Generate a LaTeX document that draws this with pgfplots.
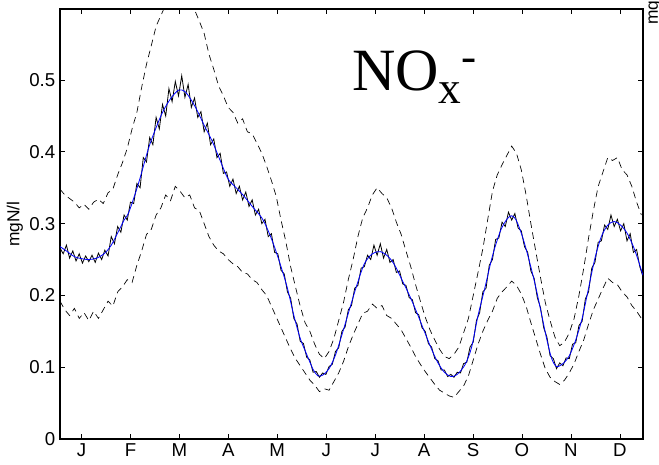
\documentclass[border=0pt]{standalone}
\usepackage{pgfplots}
\pgfplotsset{compat=1.18}
\usepackage{fontspec}
\setmainfont{Liberation Sans}
\newfontfamily\timesf{Liberation Serif}

% daily mean (black, noisy)
\pgfplotstableread{
d v
1 .266
3 .258
5 .270
7 .252
9 .262
11 .248
13 .258
15 .245
17 .255
19 .247
21 .256
23 .246
25 .259
27 .250
29 .263
31 .255
33 .282
35 .272
37 .296
39 .288
41 .312
43 .305
45 .330
47 .328
49 .356
51 .350
53 .392
55 .386
57 .420
59 .410
61 .448
63 .432
65 .466
67 .450
69 .488
71 .470
73 .498
75 .478
77 .506
79 .476
81 .494
83 .462
85 .475
87 .448
89 .456
91 .428
93 .440
95 .410
97 .418
99 .392
101 .398
103 .370
105 .372
107 .352
109 .362
111 .342
113 .352
115 .333
117 .344
119 .324
121 .333
123 .312
125 .320
127 .300
129 .306
131 .282
133 .286
135 .260
137 .258
139 .235
141 .230
143 .205
145 .196
147 .168
149 .160
151 .136
153 .133
155 .114
157 .110
159 .093
161 .094
163 .086
165 .092
167 .090
169 .101
171 .104
173 .122
175 .127
177 .150
179 .156
181 .180
183 .186
185 .210
187 .214
189 .238
191 .240
193 .256
195 .250
197 .270
199 .256
201 .272
203 .252
205 .264
207 .246
209 .250
211 .232
213 .234
215 .216
217 .214
219 .197
221 .194
223 .176
225 .173
227 .155
229 .150
231 .133
233 .128
235 .112
237 .109
239 .096
241 .096
243 .087
245 .090
247 .086
249 .093
251 .092
253 .105
255 .107
257 .128
259 .135
261 .165
263 .176
265 .205
267 .210
269 .242
271 .250
273 .278
275 .280
277 .302
279 .296
281 .316
283 .305
285 .314
287 .294
289 .290
291 .268
293 .260
295 .234
297 .224
299 .197
301 .183
303 .155
305 .142
307 .116
309 .112
311 .098
313 .106
315 .102
317 .113
319 .112
321 .132
323 .134
325 .158
327 .164
329 .195
331 .205
333 .238
335 .246
337 .274
339 .276
341 .298
343 .292
345 .312
347 .296
349 .306
351 .290
353 .300
355 .276
357 .286
359 .260
361 .264
363 .240
365 .226
}\meanline

% smooth fit (blue)
\pgfplotstableread{
d v
1 .268
5 .262
10 .254
15 .251
19 .250
24 .252
29 .259
33 .270
37 .287
41 .305
44 .316
50 .356
56 .403
60 .428
65 .455
70 .474
75 .486
79 .484
83 .472
87 .456
91 .437
96 .415
101 .388
106 .362
111 .350
116 .338
121 .324
127 .308
131 .290
135 .267
139 .240
143 .210
147 .172
151 .140
155 .118
159 .097
162 .088
165 .089
169 .098
173 .117
177 .145
181 .175
186 .212
191 .244
196 .258
201 .261
206 .254
210 .242
214 .224
219 .201
224 .175
229 .147
233 .125
237 .106
241 .093
245 .087
249 .090
254 .104
258 .128
262 .172
266 .208
271 .255
276 .290
280 .306
283 .311
286 .304
290 .280
294 .248
298 .212
302 .170
305 .138
308 .112
311 .101
315 .105
319 .116
323 .138
327 .168
331 .210
335 .252
339 .282
343 .298
347 .303
351 .298
355 .287
359 .268
362 .249
365 .228
}\fitline

% upper bound (dashed)
\pgfplotstableread{
d v
1 .348
4 .340
7 .335
10 .330
13 .322
16 .327
19 .320
22 .330
25 .334
28 .328
31 .343
34 .348
37 .368
40 .385
43 .405
46 .432
49 .455
52 .490
55 .522
58 .548
61 .575
64 .590
67 .605
70 .612
73 .608
76 .615
79 .605
82 .610
85 .598
88 .582
91 .565
94 .536
97 .515
100 .492
103 .478
106 .462
109 .455
112 .440
115 .446
118 .428
121 .425
124 .412
127 .398
130 .380
133 .360
136 .338
139 .305
142 .275
145 .240
148 .212
151 .185
154 .162
157 .150
160 .132
163 .118
166 .112
169 .122
172 .140
175 .165
178 .190
181 .222
184 .250
187 .282
190 .308
193 .322
196 .340
199 .350
202 .342
205 .336
208 .322
211 .302
214 .285
217 .262
220 .240
223 .215
226 .192
229 .170
232 .152
235 .138
238 .125
241 .115
244 .112
247 .118
250 .128
253 .148
256 .168
259 .200
262 .232
265 .265
268 .305
271 .345
274 .368
277 .382
280 .395
283 .408
286 .398
289 .375
292 .340
295 .300
298 .262
301 .225
304 .190
307 .165
310 .142
313 .130
316 .135
319 .148
322 .168
325 .200
328 .238
331 .280
334 .318
337 .352
340 .372
343 .392
346 .388
349 .392
352 .375
355 .368
358 .352
361 .330
364 .312
}\upperline

% lower bound (dashed)
\pgfplotstableread{
d v
1 .192
4 .180
7 .172
10 .182
13 .168
16 .176
19 .165
22 .178
25 .168
28 .180
31 .192
34 .185
37 .205
40 .212
43 .222
46 .218
49 .242
52 .262
55 .285
58 .292
61 .312
64 .322
67 .340
70 .332
73 .352
76 .345
79 .336
82 .340
85 .322
88 .318
91 .300
94 .282
97 .270
100 .262
103 .258
106 .250
109 .244
112 .240
115 .232
118 .230
121 .222
124 .218
127 .208
130 .200
133 .185
136 .170
139 .155
142 .140
145 .125
148 .112
151 .102
154 .092
157 .082
160 .075
163 .066
166 .070
169 .068
172 .080
175 .092
178 .108
181 .128
184 .145
187 .160
190 .175
193 .178
196 .188
199 .182
202 .186
205 .172
208 .168
211 .160
214 .152
217 .140
220 .128
223 .115
226 .104
229 .094
232 .085
235 .076
238 .068
241 .064
244 .060
247 .058
250 .066
253 .074
256 .088
259 .110
262 .132
265 .150
268 .165
271 .178
274 .196
277 .205
280 .212
283 .220
286 .214
289 .202
292 .185
295 .162
298 .140
301 .118
304 .098
307 .086
310 .080
313 .076
316 .082
319 .092
322 .105
325 .122
328 .138
331 .160
334 .180
337 .195
340 .210
343 .224
346 .218
349 .215
352 .205
355 .198
358 .186
361 .178
364 .168
}\lowerline

\begin{document}
\begin{tikzpicture}
\begin{axis}[
    name=ax,
    scale only axis,
    width=437.25pt,
    height=322.5pt,
    xmin=1, xmax=365,
    ymin=0, ymax=0.599,
    xtick={14.4,45.0,75.5,106.1,136.6,167.2,197.8,228.3,258.9,289.4,320.0,350.6},
    xticklabels={J,F,M,A,M,J,J,A,S,O,N,D},
    ytick={0,0.1,0.2,0.3,0.4,0.5},
    yticklabels={0,0.1,0.2,0.3,0.4,0.5},
    tick align=inside,
    major tick length=4pt,
    tick style={black, line width=0.6pt},
    axis line style={black, line width=0.9pt},
    ticklabel style={font=\fontsize{14}{16}\selectfont},
    ylabel={mgN/l},
    ylabel style={at={(axis description cs:-0.0772,0.5)}, anchor=center, font=\fontsize{13}{15}\selectfont},
    /pgf/number format/assume math mode=true,
]
\addplot[black, line width=0.5pt, dash pattern=on 5pt off 3.5pt] table[x=d,y=v] {\upperline};
\addplot[black, line width=0.5pt, dash pattern=on 5pt off 3.5pt] table[x=d,y=v] {\lowerline};
\addplot[black, line width=0.6pt] table[x=d,y=v] {\meanline};
\addplot[color={rgb,255:red,0;green,0;blue,255}, line width=0.6pt, smooth] table[x=d,y=v] {\fitline};
\node[anchor=base west, inner sep=0pt] at (axis cs:183.3,0.486)
  {\timesf\fontsize{45}{50}\selectfont NO\raisebox{-10pt}{\fontsize{34}{40}\selectfont x}\raisebox{14pt}{\fontsize{34}{40}\selectfont -}};
\end{axis}
\node[rotate=90, anchor=north west, inner sep=0pt, font=\fontsize{13}{15}\selectfont]
  at ([xshift=1.5pt, yshift=-12pt]ax.north east) {mgN/l};
\pgfresetboundingbox
\path[use as bounding box] (-45pt,-18.75pt) rectangle (449.25pt,329.25pt);
\end{tikzpicture}
\end{document}
